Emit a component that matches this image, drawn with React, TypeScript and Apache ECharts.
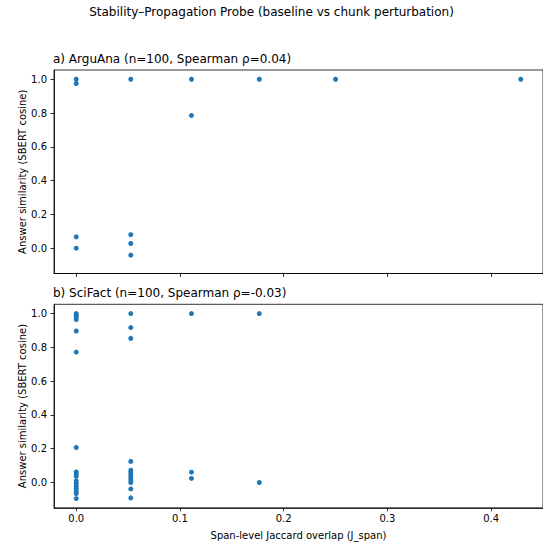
import React, { useEffect, useRef } from "react";
import * as echarts from "echarts";

const suptitle = "Stability–Propagation Probe (baseline vs chunk perturbation)";
const titleA = "a) ArguAna (n=100, Spearman ρ=0.04)";
const titleB = "b) SciFact (n=100, Spearman ρ=-0.03)";
const xLabel = "Span-level Jaccard overlap (J_span)";
const yLabel = "Answer similarity (SBERT cosine)";

const xTicks = [0, 0.1, 0.2, 0.3, 0.4];
const yTicks = [0, 0.2, 0.4, 0.6, 0.8, 1.0];

const arguanaX = [0, 0, 0, 0, 0.0526, 0.0526, 0.0526, 0.0526, 0.1111, 0.1111, 0.1765, 0.25, 0.4286];
const arguanaY = [1.0, 0.975, 0.067, 0.0, 1.0, 0.08, 0.028, -0.041, 1.0, 0.786, 1.0, 1.0, 1.0];

const scifactX = [
  0, 0, 0, 0, 0, 0, 0, 0, 0, 0, 0, 0, 0, 0, 0, 0, 0,
  0.0526, 0.0526, 0.0526, 0.0526, 0.0526, 0.0526, 0.0526, 0.0526, 0.0526, 0.0526, 0.0526, 0.0526,
  0.1111, 0.1111, 0.1111,
  0.1765, 0.1765,
];
const scifactY = [
  1.0, 0.99, 0.98, 0.965, 0.897, 0.772, 0.207, 0.062, 0.05, 0.037, 0.01, -0.005, -0.02, -0.035, -0.05, -0.065, -0.095,
  1.0, 0.917, 0.853, 0.125, 0.073, 0.06, 0.045, 0.03, 0.015, 0.0, -0.038, -0.091,
  1.0, 0.061, 0.024,
  1.0, 0.0,
];

const FONT = "DejaVu Sans";

export default function App() {
  const ref = useRef<HTMLDivElement>(null);
  useEffect(() => {
    if (!ref.current) return;
    const chart = echarts.init(ref.current, null, { renderer: "svg" });
    const xMin = -0.02143;
    const xMax = 0.45;
    const yMin = -0.1497;
    const yMax = 1.0548;
    const axisLine = { show: true, onZero: false, lineStyle: { color: "#000", width: 0.8 } };
    const axisTick = { show: true, length: 3.5, lineStyle: { color: "#000", width: 0.8 } };
    const mkX = (idx: number, labels: boolean) => ({
      type: "value",
      gridIndex: idx,
      min: xMin,
      max: xMax,
      axisLine,
      axisTick: { ...axisTick, customValues: xTicks },
      axisLabel: {
        show: labels,
        customValues: xTicks,
        margin: 6,
        fontSize: 10,
        fontFamily: FONT,
        color: "#000",
        formatter: (v: number) => v.toFixed(1),
      },
      splitLine: { show: false },
      name: labels ? xLabel : "",
      nameLocation: "middle",
      nameGap: 23,
      nameMoveOverlap: false,
      nameTextStyle: { fontSize: 10, fontFamily: FONT, color: "#000" },
    });
    const mkY = (idx: number) => ({
      type: "value",
      gridIndex: idx,
      min: yMin,
      max: yMax,
      axisLine,
      axisTick: { ...axisTick, customValues: yTicks },
      axisLabel: {
        customValues: yTicks,
        margin: 7,
        fontSize: 10,
        fontFamily: FONT,
        color: "#000",
        formatter: (v: number) => v.toFixed(1),
      },
      splitLine: { show: false },
      name: yLabel,
      nameLocation: "middle",
      nameGap: 27,
      nameMoveOverlap: false,
      nameTextStyle: { fontSize: 10, fontFamily: FONT, color: "#000" },
    });
    const gridCommon = {
      left: 54,
      width: 494,
      height: 203.5,
      show: true,
      borderColor: "#000",
      borderWidth: 0.8,
      backgroundColor: "transparent",
    };
    const tStyle = { fontSize: 12, fontWeight: "normal", fontFamily: FONT, color: "#000" };
    chart.setOption({
      animation: false,
      title: [
        { text: suptitle, left: "center", top: 6, padding: 0, textStyle: tStyle },
        { text: titleA, left: 53, top: 53, padding: 0, textStyle: tStyle },
        { text: titleB, left: 53, top: 287, padding: 0, textStyle: tStyle },
      ],
      grid: [
        { ...gridCommon, top: 70 },
        { ...gridCommon, top: 304.3 },
      ],
      xAxis: [mkX(0, false), mkX(1, true)],
      yAxis: [mkY(0), mkY(1)],
      series: [
        {
          type: "scatter",
          xAxisIndex: 0,
          yAxisIndex: 0,
          symbolSize: 5,
          itemStyle: { color: "#1f77b4", opacity: 1 },
          data: arguanaX.map((x, i) => [x, arguanaY[i]]),
        },
        {
          type: "scatter",
          xAxisIndex: 1,
          yAxisIndex: 1,
          symbolSize: 5,
          itemStyle: { color: "#1f77b4", opacity: 1 },
          data: scifactX.map((x, i) => [x, scifactY[i]]),
        },
      ],
    });
    return () => chart.dispose();
  }, []);
  return (
    <div
      ref={ref}
      style={{ position: "fixed", left: 0, top: 0, width: 543, height: 545, background: "#fff" }}
    />
  );
}
